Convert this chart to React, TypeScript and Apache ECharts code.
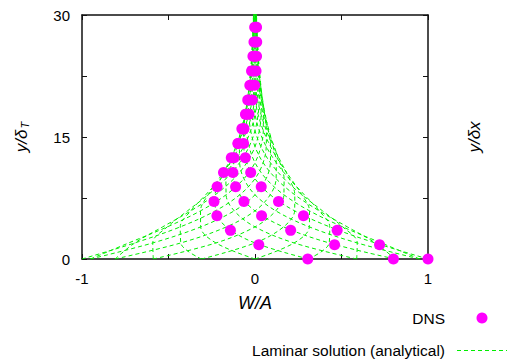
import React, { useEffect, useRef } from 'react';
import * as echarts from 'echarts';

// Heights (y/δT) at which the analytical laminar profiles were read
const laminarHeights = [0, 1.974, 3.948, 5.922, 7.896, 9.87, 11.844, 13.817, 15.791, 17.765, 19.739, 21.713, 23.687, 25.661, 27.635, 29.609, 31.583];

// W/A of each laminar profile (one per phase) at the heights above
const laminarProfiles = [
  [1, 0.695, 0.432, 0.229, 0.088, 0, -0.047, -0.065, -0.066, -0.056, -0.043, -0.03, -0.019, -0.01, -0.004, 0, 0.002],
  [0.951, 0.73, 0.507, 0.315, 0.167, 0.064, 0, -0.034, -0.048, -0.048, -0.041, -0.032, -0.022, -0.014, -0.007, -0.003, 0],
  [0.809, 0.695, 0.534, 0.371, 0.23, 0.122, 0.047, 0, -0.025, -0.035, -0.035, -0.03, -0.023, -0.016, -0.01, -0.005, -0.002],
  [0.588, 0.591, 0.507, 0.39, 0.271, 0.168, 0.089, 0.034, 0, -0.018, -0.025, -0.026, -0.022, -0.017, -0.012, -0.007, -0.004],
  [0.309, 0.429, 0.432, 0.371, 0.285, 0.198, 0.123, 0.065, 0.025, 0, -0.013, -0.019, -0.019, -0.016, -0.012, -0.009, -0.005],
  [0, 0.226, 0.314, 0.315, 0.271, 0.208, 0.144, 0.09, 0.048, 0.018, 0, -0.01, -0.014, -0.014, -0.012, -0.009, -0.006],
  [-0.309, 0, 0.165, 0.229, 0.23, 0.198, 0.152, 0.105, 0.066, 0.035, 0.013, 0, -0.007, -0.01, -0.01, -0.009, -0.007],
  [-0.588, -0.226, 0, 0.12, 0.167, 0.168, 0.144, 0.111, 0.077, 0.048, 0.025, 0.01, 0, -0.005, -0.007, -0.007, -0.006],
  [-0.809, -0.429, -0.165, 0, 0.088, 0.122, 0.123, 0.105, 0.081, 0.056, 0.035, 0.019, 0.007, 0, -0.004, -0.005, -0.005],
  [-0.951, -0.591, -0.314, -0.12, 0, 0.064, 0.089, 0.09, 0.077, 0.059, 0.041, 0.026, 0.014, 0.005, 0, -0.003, -0.004],
  [-1, -0.695, -0.432, -0.229, -0.088, 0, 0.047, 0.065, 0.066, 0.056, 0.043, 0.03, 0.019, 0.01, 0.004, 0, -0.002],
  [-0.951, -0.73, -0.507, -0.315, -0.167, -0.064, 0, 0.034, 0.048, 0.048, 0.041, 0.032, 0.022, 0.014, 0.007, 0.003, 0],
  [-0.809, -0.695, -0.534, -0.371, -0.23, -0.122, -0.047, 0, 0.025, 0.035, 0.035, 0.03, 0.023, 0.016, 0.01, 0.005, 0.002],
  [-0.588, -0.591, -0.507, -0.39, -0.271, -0.168, -0.089, -0.034, 0, 0.018, 0.025, 0.026, 0.022, 0.017, 0.012, 0.007, 0.004],
  [-0.309, -0.429, -0.432, -0.371, -0.285, -0.198, -0.123, -0.065, -0.025, 0, 0.013, 0.019, 0.019, 0.016, 0.012, 0.009, 0.005],
  [0, -0.226, -0.314, -0.315, -0.271, -0.208, -0.144, -0.09, -0.048, -0.018, 0, 0.01, 0.014, 0.014, 0.012, 0.009, 0.006],
  [0.309, 0, -0.165, -0.229, -0.23, -0.198, -0.152, -0.105, -0.066, -0.035, -0.013, 0, 0.007, 0.01, 0.01, 0.009, 0.007],
  [0.588, 0.226, 0, -0.12, -0.167, -0.168, -0.144, -0.111, -0.077, -0.048, -0.025, -0.01, 0, 0.005, 0.007, 0.007, 0.006],
  [0.809, 0.429, 0.165, 0, -0.088, -0.122, -0.123, -0.105, -0.081, -0.056, -0.035, -0.019, -0.007, 0, 0.004, 0.005, 0.005],
  [0.951, 0.591, 0.314, 0.12, 0, -0.064, -0.089, -0.09, -0.077, -0.059, -0.041, -0.026, -0.014, -0.005, 0, 0.003, 0.004],
];

// DNS samples: heights and W/A at three phases
const dnsHeights = [0, 1.76, 3.52, 5.32, 7.08, 8.88, 10.64, 12.44, 14.2, 16.0, 17.8, 19.56, 21.37, 23.13, 24.93, 26.69, 28.49];
const dnsPhaseA = [1.0, 0.72, 0.475, 0.28, 0.136, 0.036, -0.025, -0.056, -0.066, -0.065, -0.054, -0.042, -0.03, -0.02, -0.012, -0.006, -0.002];
const dnsPhaseB = [0.8, 0.46, 0.206, 0.038, -0.064, -0.112, -0.128, -0.121, -0.099, -0.076, -0.054, -0.037, -0.021, -0.01, -0.002, 0.002, 0.005];
const dnsPhaseC = [0.305, 0.022, -0.142, -0.22, -0.237, -0.219, -0.182, -0.137, -0.097, -0.064, -0.035, -0.015, -0.002, 0.006, 0.009, 0.01, 0.009];

const xTickLabels = [-1, 0, 1];
const yTickLabels = [0, 15, 30];

const DNS_NAME = 'DNS';
const LAMINAR_NAME = 'Laminar solution (analytical)';
const FONT = '"Liberation Sans", Arial, Helvetica, sans-serif';
const GREEN = '#00ee00';
const MAGENTA = '#ff00ff';
const FRAME = '#111';

export default function App() {
  const ref = useRef<HTMLDivElement>(null);

  useEffect(() => {
    document.body.style.margin = '0';
    if (!ref.current) return;
    const chart = echarts.init(ref.current, undefined, { renderer: 'svg' });

    const frameAxis = {
      axisLine: { show: true, onZero: false, lineStyle: { color: FRAME, width: 1.5 } },
      axisTick: { show: true, inside: true, length: 5, lineStyle: { color: FRAME, width: 1 } },
      splitLine: { show: false },
    };

    const laminarSeries = laminarProfiles.map((profile) => ({
      type: 'line',
      name: LAMINAR_NAME,
      xAxisIndex: 0,
      yAxisIndex: 0,
      data: profile.map((w, i) => [w, laminarHeights[i]]),
      symbol: 'none',
      showSymbol: false,
      smooth: 0.35,
      silent: true,
      z: 2,
      lineStyle: { color: GREEN, width: 1, type: [4, 3] },
      itemStyle: { color: GREEN },
    }));

    const dnsData: number[][] = [];
    dnsHeights.forEach((y, i) => {
      dnsData.push([dnsPhaseA[i], y]);
      dnsData.push([dnsPhaseB[i], y]);
      dnsData.push([dnsPhaseC[i], y]);
    });

    const legendText = { fontSize: 15.5, fill: '#000', fontFamily: FONT, align: 'right', verticalAlign: 'middle' };

    chart.setOption({
      animation: false,
      backgroundColor: '#fff',
      textStyle: { fontFamily: FONT },
      grid: { left: 82, right: 80, top: 15, bottom: 100 },
      graphic: [
        { type: 'text', x: 445, y: 318, style: { ...legendText, text: DNS_NAME } },
        { type: 'circle', x: 482, y: 318, shape: { cx: 0, cy: 0, r: 5.5 }, style: { fill: MAGENTA } },
        { type: 'text', x: 445, y: 350, style: { ...legendText, text: LAMINAR_NAME } },
        {
          type: 'line',
          x: 0,
          y: 0,
          shape: { x1: 457, y1: 350.5, x2: 507, y2: 350.5 },
          style: { stroke: GREEN, lineWidth: 1, lineDash: [4, 3] },
        },
      ],
      xAxis: [
        {
          type: 'value',
          position: 'bottom',
          min: -1,
          max: 1,
          interval: 0.5,
          ...frameAxis,
          axisLabel: {
            margin: 12,
            fontSize: 15,
            color: '#000',
            fontFamily: FONT,
            formatter: (v: number) => (xTickLabels.includes(v) ? String(v) : ''),
          },
          name: 'W/A',
          nameLocation: 'middle',
          nameGap: 35,
          nameTextStyle: { fontSize: 18, fontStyle: 'italic', color: '#000', fontFamily: FONT },
        },
        {
          type: 'value',
          position: 'top',
          min: -1,
          max: 1,
          interval: 0.5,
          ...frameAxis,
          axisLabel: { show: false },
        },
      ],
      yAxis: [
        {
          type: 'value',
          position: 'left',
          min: 0,
          max: 30,
          interval: 7.5,
          ...frameAxis,
          axisLabel: {
            margin: 12,
            fontSize: 15,
            color: '#000',
            fontFamily: FONT,
            formatter: (v: number) => (yTickLabels.includes(v) ? String(v) : ''),
          },
          name: '{m|y/δ}{s|T}',
          nameLocation: 'middle',
          nameRotate: 90,
          nameGap: 52,
          nameTextStyle: {
            fontSize: 16,
            fontStyle: 'italic',
            color: '#000',
            fontFamily: FONT,
            rich: {
              m: { fontSize: 17, fontStyle: 'italic', color: '#000', fontFamily: FONT },
              s: { fontSize: 11, fontStyle: 'italic', color: '#000', fontFamily: FONT, padding: [6, 0, 0, 1] },
            },
          },
        },
        {
          type: 'value',
          position: 'right',
          min: 0,
          max: 30,
          interval: 7.5,
          ...frameAxis,
          axisLabel: { show: false },
          name: 'y/δx',
          nameLocation: 'middle',
          nameRotate: 90,
          nameGap: 38,
          nameTextStyle: { fontSize: 17, fontStyle: 'italic', color: '#000', fontFamily: FONT },
        },
      ],
      series: [
        ...laminarSeries,
        {
          type: 'scatter',
          name: DNS_NAME,
          xAxisIndex: 0,
          yAxisIndex: 0,
          data: dnsData,
          symbol: 'circle',
          symbolSize: 11,
          z: 5,
          itemStyle: { color: MAGENTA, opacity: 1 },
        },
      ],
    });

    return () => chart.dispose();
  }, []);

  return (
    <div
      ref={ref}
      style={{ width: 508, height: 359, position: 'fixed', left: 0, top: 0, background: '#fff' }}
    />
  );
}
